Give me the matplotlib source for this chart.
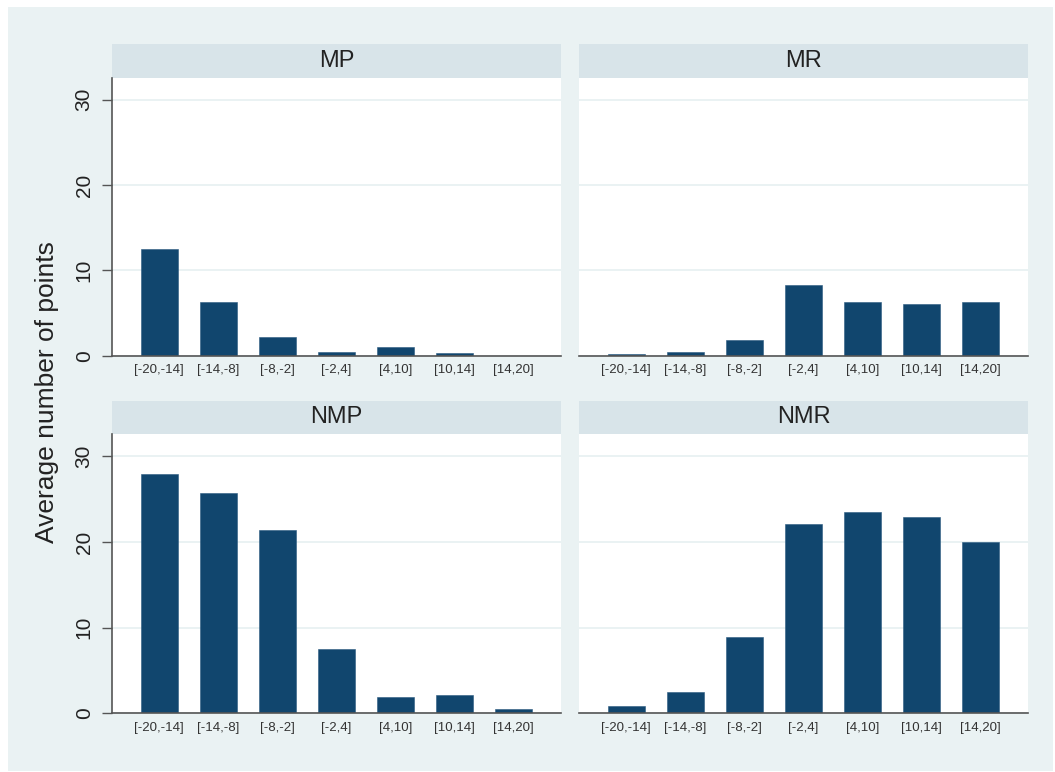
import matplotlib
matplotlib.use("Agg")
import matplotlib.pyplot as plt
import matplotlib.patches as mpatches

plt.rcParams['font.family'] = ['Liberation Sans', 'DejaVu Sans']

# bins of points difference
categories = ["[-20,-14]", "[-14,-8]", "[-8,-2]", "[-2,4]", "[4,10]", "[10,14]", "[14,20]"]

panel_titles = ["MP", "MR", "NMP", "NMR"]
mp_values = [12.5, 6.33, 2.19, 0.47, 1.02, 0.35, 0.0]
mr_values = [0.2, 0.47, 1.88, 8.24, 6.33, 6.09, 6.29]
nmp_values = [27.93, 25.74, 21.4, 7.5, 1.95, 2.15, 0.5]
nmr_values = [0.9, 2.54, 8.87, 22.07, 23.44, 22.89, 20.04]
y_ticks = [0, 10, 20, 30]
y_label = "Average number of points"

BG = "#EAF2F3"
STRIP = "#D8E4E9"
BAR = "#11466E"
AXIS = "#555555"

W, H = 1055, 772
fig = plt.figure(figsize=(W / 100, H / 100), dpi=100)
fig.patches.append(mpatches.Rectangle((8 / W, 1 - 771 / H), 1045 / W, 764 / H,
                                      transform=fig.transFigure, facecolor=BG,
                                      edgecolor="none", zorder=-10))


def px_axes(x0, y0, x1, y1):
    # pixel box (top-left origin) -> figure axes
    return fig.add_axes([x0 / W, 1 - y1 / H, (x1 - x0) / W, (y1 - y0) / H])


boxes = [(112, 77.5, 561, 355.7), (579, 77.5, 1028, 355.7),
         (112, 434, 561, 713.3), (579, 434, 1028, 713.3)]
all_values = [mp_values, mr_values, nmp_values, nmr_values]
strip_h = 33.5

for i, (box, title, vals) in enumerate(zip(boxes, panel_titles, all_values)):
    ax = px_axes(*box)
    ax.set_facecolor("white")
    xs = list(range(len(categories)))
    ax.bar(xs, vals, width=0.62, color=BAR, edgecolor="#2a5a80", linewidth=0.4, zorder=3)
    ax.set_xlim(-0.8, 6.8)
    ax.set_ylim(0, 32.6)
    ax.set_yticks(y_ticks)
    ax.grid(axis="y", color=BG, linewidth=1.4, zorder=0)
    ax.set_axisbelow(True)
    ax.set_xticks(xs)
    ax.set_xticklabels(categories, fontsize=9.5, color="#333333")
    ax.tick_params(axis="x", length=0, pad=6)
    for s in ["top", "right"]:
        ax.spines[s].set_visible(False)
    ax.spines["bottom"].set_color(AXIS)
    ax.spines["bottom"].set_linewidth(1.2)
    ax.spines["bottom"].set_zorder(4)
    if i % 2 == 0:
        ax.spines["left"].set_color(AXIS)
        ax.spines["left"].set_linewidth(1.2)
        ax.tick_params(axis="y", length=7.2, width=1, color=AXIS, pad=6,
                       labelsize=15, labelcolor="#222222", labelrotation=90)
        for lab in ax.get_yticklabels():
            lab.set_va("center")
    else:
        ax.spines["left"].set_visible(False)
        ax.tick_params(axis="y", length=0, labelleft=False)

    hh = strip_h / (box[3] - box[1])
    ax.add_patch(mpatches.Rectangle((0, 1), 1, hh, transform=ax.transAxes,
                                    facecolor=STRIP, edgecolor="none", clip_on=False))
    ax.text(0.5, 1 + hh / 2, title, transform=ax.transAxes, ha="center", va="center",
            fontsize=17, color="#222222")

fig.text(47 / W, 1 - 392 / H, y_label, rotation=90, ha="center", va="center",
         fontsize=19, color="#222222")

fig.savefig("out.png", dpi=100, facecolor="white")
